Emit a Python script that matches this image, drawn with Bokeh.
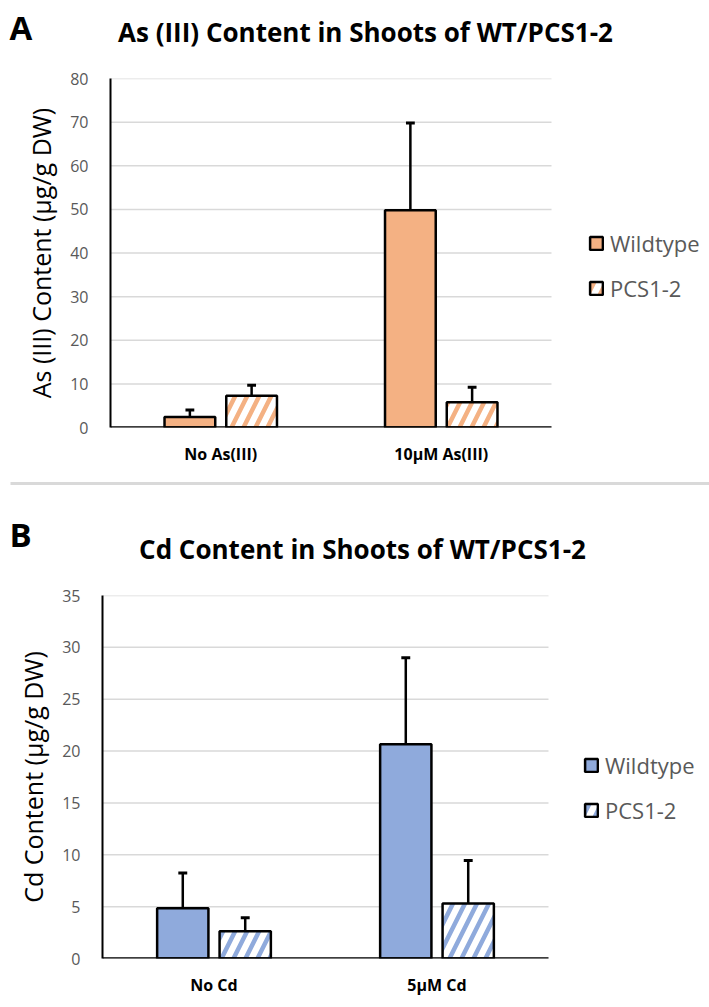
from bokeh.plotting import figure
from bokeh.models import Range1d, FixedTicker, Legend, LegendItem, ColumnDataSource
from bokeh.core.properties import value
from bokeh.embed import file_html
from bokeh.resources import INLINE

# ---------------- data ----------------
cats_a = ["No As(III)", "10\u00b5M As(III)"]
wt_a = [2.4, 49.8]
wt_a_err = [1.6, 20.0]
pcs_a = [7.3, 5.8]
pcs_a_err = [2.4, 3.4]
yticks_a = [0, 10, 20, 30, 40, 50, 60, 70, 80]

cats_b = ["No Cd", "5\u00b5M Cd"]
wt_b = [4.85, 20.65]
wt_b_err = [3.4, 8.35]
pcs_b = [2.63, 5.3]
pcs_b_err = [1.3, 4.15]
yticks_b = [0, 5, 10, 15, 20, 25, 30, 35]

series_names = ["Wildtype", "PCS1-2"]
titles = ["As (III) Content in Shoots of WT/PCS1-2", "Cd Content in Shoots of WT/PCS1-2"]
letters = ["A", "B"]
ylabels = ["As (III) Content (\u00b5g/g DW)", "Cd Content (\u00b5g/g DW)"]

FONT = "Open Sans"
TICK_COLOR = "#595959"
GRID_COLOR = "#d9d9d9"
W = 709

BAR_W = 0.23
GAP = 0.05


def header(height, letter, letter_xy, title, title_xy, sep_y=None):
    h = figure(width=W, height=height, output_backend="svg", toolbar_location=None,
               x_range=Range1d(0, W), y_range=Range1d(height, 0), min_border=0,
               x_axis_location=None, y_axis_location=None)
    h.outline_line_color = None
    h.xgrid.visible = False
    h.ygrid.visible = False
    if sep_y is not None:
        h.segment(x0=[10], y0=[sep_y], x1=[W], y1=[sep_y], line_color=GRID_COLOR, line_width=3)
    h.text(x=[letter_xy[0]], y=[letter_xy[1]], text=[letter], text_font=value(FONT),
           text_font_style="bold", text_font_size="33px", text_color="black",
           text_align="left", text_baseline="middle")
    h.text(x=[title_xy[0]], y=[title_xy[1]], text=[title], text_font=value(FONT),
           text_font_style="bold", text_font_size="26px", text_color="black",
           text_align="center", text_baseline="middle")
    return h


def panel(cats, wt, wt_err, pcs, pcs_err, yticks, ymax, color, ylabel,
          height, bl, frame_r, bt, bb, leg_loc):
    n = len(cats)
    # the frame runs to the right edge so the legend can sit in it; categories fill 0..n
    data_w = frame_r - bl
    xmax = n * (W - bl) / data_w
    p = figure(width=W, height=height, output_backend="svg", toolbar_location=None,
               x_range=Range1d(0, xmax), y_range=Range1d(0, ymax),
               min_border_left=bl, min_border_right=0, min_border_top=bt, min_border_bottom=bb)
    p.outline_line_color = None

    # horizontal gridlines limited to the category area
    p.xgrid.grid_line_color = None
    p.ygrid.grid_line_color = None
    p.segment(x0=[0] * len(yticks), y0=yticks, x1=[n] * len(yticks), y1=yticks,
              line_color=GRID_COLOR, line_width=1.5)

    idx = list(range(n))
    x_wt = [i + 0.5 - GAP / 2 - BAR_W / 2 for i in idx]
    x_pcs = [i + 0.5 + GAP / 2 + BAR_W / 2 for i in idx]

    src_wt = ColumnDataSource(dict(x=x_wt, top=wt, hi=[v + e for v, e in zip(wt, wt_err)]))
    src_pcs = ColumnDataSource(dict(x=x_pcs, top=pcs, hi=[v + e for v, e in zip(pcs, pcs_err)]))

    r_wt = p.vbar(x="x", top="top", width=BAR_W, source=src_wt, fill_color=color,
                  line_color="black", line_width=2.5)
    r_pcs = p.vbar(x="x", top="top", width=BAR_W, source=src_pcs, fill_color="white",
                   line_color="black", line_width=2.5, hatch_pattern="right_diagonal_line",
                   hatch_color=color, hatch_weight=4.5, hatch_scale=24)

    cap = 0.02
    for src in (src_wt, src_pcs):
        p.segment(x0="x", y0="top", x1="x", y1="hi", source=src, line_color="black", line_width=2.5)
        d = src.data
        p.segment(x0=[x - cap for x in d["x"]], y0=d["hi"], x1=[x + cap for x in d["x"]], y1=d["hi"],
                  line_color="black", line_width=3)

    # category axis line (only across the category area)
    p.segment(x0=[0], y0=[0], x1=[n], y1=[0], line_color="black", line_width=2.5)

    p.xaxis.ticker = FixedTicker(ticks=[i + 0.5 for i in idx])
    p.xaxis.major_label_overrides = {i + 0.5: c for i, c in zip(idx, cats)}
    p.xaxis.major_label_text_font = FONT
    p.xaxis.major_label_text_font_style = "bold"
    p.xaxis.major_label_text_font_size = "16px"
    p.xaxis.major_label_text_color = "black"
    p.xaxis.major_tick_line_color = None
    p.xaxis.minor_tick_line_color = None
    p.xaxis.major_label_standoff = 9
    p.xaxis.axis_line_color = None

    p.yaxis.ticker = FixedTicker(ticks=yticks)
    p.yaxis.major_label_text_font = FONT
    p.yaxis.major_label_text_font_size = "16px"
    p.yaxis.major_label_text_color = TICK_COLOR
    p.yaxis.major_tick_line_color = None
    p.yaxis.minor_tick_line_color = None
    p.yaxis.major_label_standoff = 16
    p.yaxis.axis_line_color = "black"
    p.yaxis.axis_line_width = 2
    p.yaxis.axis_label = ylabel
    p.yaxis.axis_label_text_font = FONT
    p.yaxis.axis_label_text_font_style = "normal"
    p.yaxis.axis_label_text_font_size = "25px"
    p.yaxis.axis_label_text_color = "black"
    p.yaxis.axis_label_standoff = 9

    leg = Legend(items=[LegendItem(label=series_names[0], renderers=[r_wt]),
                        LegendItem(label=series_names[1], renderers=[r_pcs])],
                 location=leg_loc, orientation="vertical")
    leg.glyph_width = 16
    leg.glyph_height = 16
    leg.label_height = 20
    leg.label_standoff = 6
    leg.spacing = 15
    leg.padding = 0
    leg.margin = 0
    leg.border_line_color = None
    leg.background_fill_alpha = 0
    leg.label_text_font = FONT
    leg.label_text_font_size = "22px"
    leg.label_text_color = TICK_COLOR
    leg.label_text_baseline = "middle"
    p.add_layout(leg, "center")
    return p


# page coordinates (origin at top-left of the page)
# panel A frame: x 110..551, y 78..427
hA = header(60, letters[0], (9, 27), titles[0], (365, 31))
pA = panel(cats_a, wt_a, wt_a_err, pcs_a, pcs_a_err, yticks_a, 80, "#F4B183", ylabels[0],
           height=421, bl=110, frame_r=551, bt=78 - 60, bb=481 - 427, leg_loc=(478, 124))

# panel B frame: x 102..548, y 595..958
hB = header(90, letters[1], (9, 534 - 481), titles[1], (362, 548 - 481), sep_y=2)
pB = panel(cats_b, wt_b, wt_b_err, pcs_b, pcs_b_err, yticks_b, 35, "#8FAADC", ylabels[1],
           height=1007 - 571, bl=102, frame_r=548, bt=595 - 571, bb=1007 - 958, leg_loc=(481, 133))

open("out.html", "w").write(file_html([hA, pA, hB, pB], INLINE))
